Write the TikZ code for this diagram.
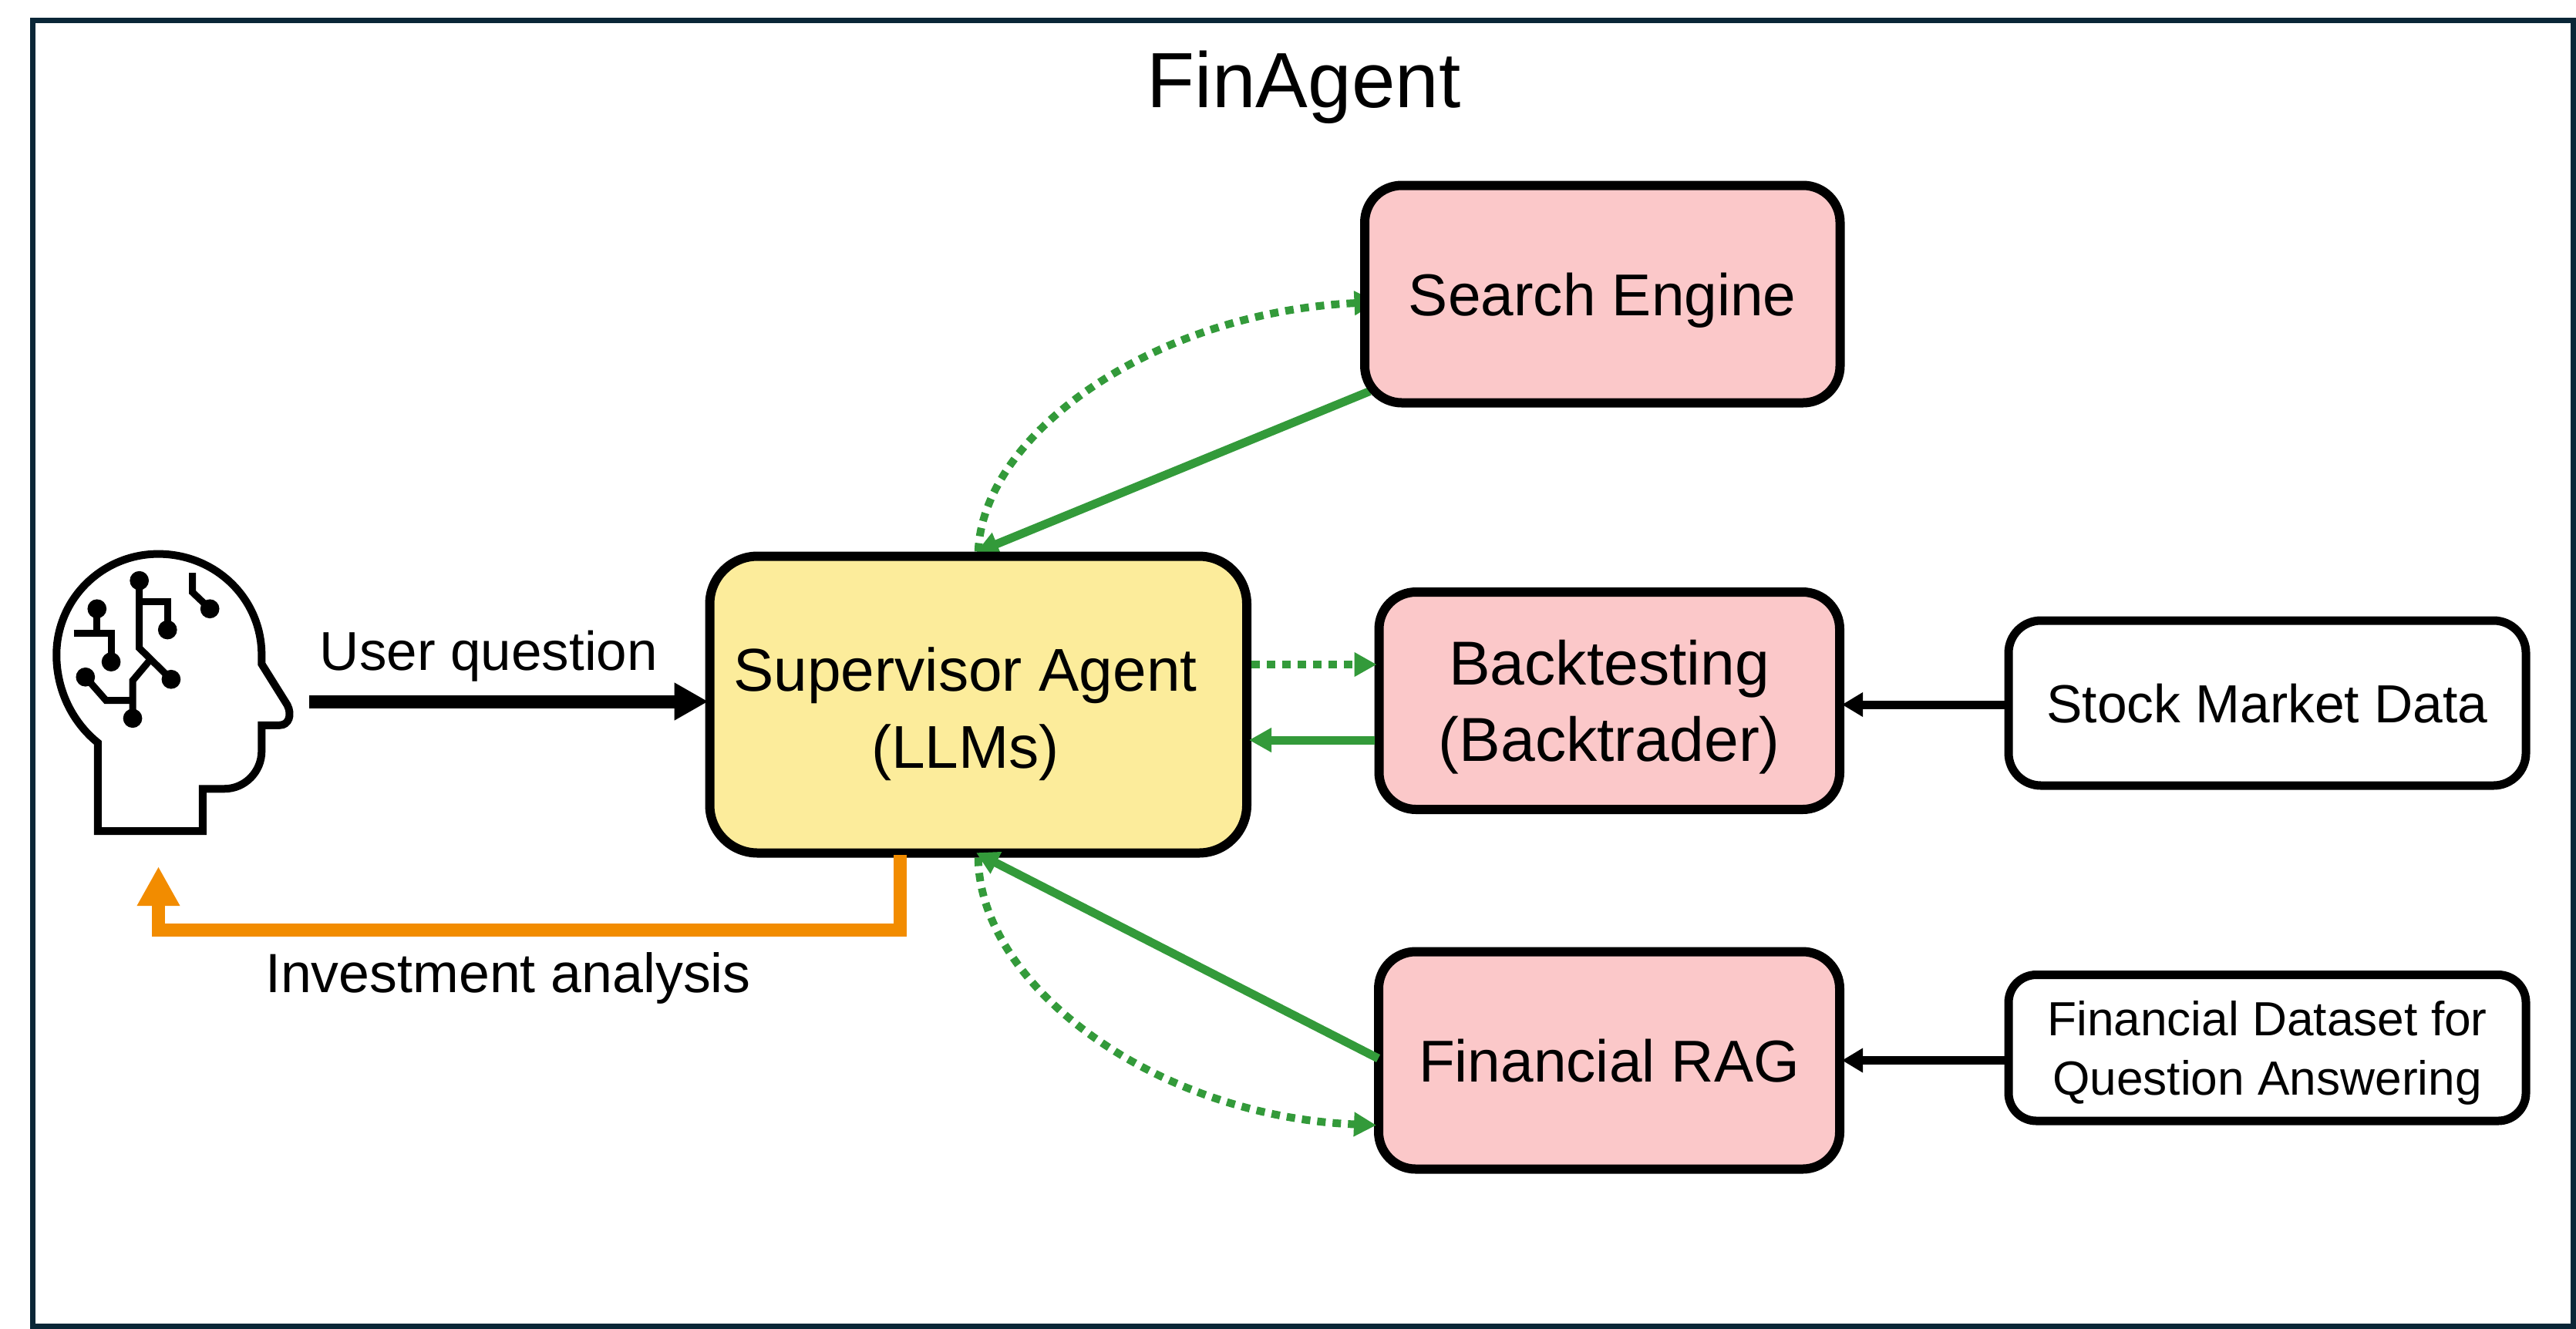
\documentclass[tikz,border=0pt]{standalone}
\usepackage{fontspec}
\setmainfont{Liberation Sans}
\usepackage{xcolor}
\usetikzlibrary{arrows, arrows.meta}
\usetikzlibrary{backgrounds}
\definecolor{frameblue}{HTML}{0A2637}
\definecolor{supyellow}{HTML}{FCEC9B}
\definecolor{toolpink}{HTML}{FBC8C9}
\definecolor{linkgreen}{HTML}{339A3A}
\definecolor{answerorange}{HTML}{F28C00}
\newcommand{\bigtext}{\fontsize{21.8}{28.3}\selectfont}
\newcommand{\midtext}{\fontsize{20.2}{28}\selectfont}
\newcommand{\smalltext}{\fontsize{17.7}{21.8}\selectfont}
\tikzset{
	framebox/.style={draw=frameblue, line width=0.07cm, minimum width=32.94cm, minimum height=16.935cm, inner sep=0pt},
	basebox/.style={draw=black, line width=0.12cm, inner sep=0pt, align=center, text depth=0pt},
	supbox/.style={basebox, fill=supyellow, rounded corners=0.62cm, minimum width=6.965cm, minimum height=3.85cm},
	toolbox/.style={basebox, fill=toolpink, rounded corners=0.48cm, minimum height=2.82cm, font=\bigtext},
	databox/.style={basebox, line width=0.11cm, fill=white, minimum width=6.71cm},
	dotarrow/.style={draw=linkgreen, line width=0.10cm, dash pattern=on 0.11cm off 0.09cm, shorten >=-0.03cm, -{Triangle[length=0.29cm,width=0.30cm]}},
	backarrow/.style={draw=linkgreen, line width=0.11cm, shorten >=-0.03cm, -{Triangle[length=0.29cm,width=0.30cm]}},
	feedarrow/.style={draw=black, line width=0.11cm, shorten >=-0.03cm, -{Triangle[length=0.27cm,width=0.30cm]}},
	wireline/.style={draw=black, line width=0.09cm}
}
\begin{document}
\begin{tikzpicture}
	\useasboundingbox (0,0) rectangle (33.41,-17.23);
	\node[framebox] (frame) at (16.9,-8.7325) {};
	\node[anchor=base, font=\fontsize{28.9}{34}\selectfont] (title) at (16.91,-1.39) {FinAgent};
	
	% boxes
	\node[supbox] (sup) at (12.6875,-9.14) {};
	\node[align=center, text depth=0pt, inner sep=0pt, font=\fontsize{22.3}{28.4}\selectfont] (suptext) at (12.52,-9.18) {Supervisor Agent\\(LLMs)};
	\node[toolbox, minimum width=6.165cm] (search) at (20.7825,-3.815) {Search Engine};
	\node[toolbox, minimum width=5.975cm, font=\fontsize{22.9}{28.3}\selectfont] (backtest) at (20.8725,-9.09) {Backtesting\\(Backtrader)};
	\node[toolbox, minimum width=5.98cm] (rag) at (20.87,-13.755) {Financial RAG};
	\node[databox, rounded corners=0.42cm, minimum height=2.14cm, font=\fontsize{19.8}{28}\selectfont] (stock) at (29.405,-9.12) {Stock Market Data};
	\node[databox, rounded corners=0.36cm, minimum height=1.895cm, font=\smalltext] (dataset) at (29.405,-13.5925) {Financial Dataset for\\Question Answering};
	
	% the two links that run under the search box
	\begin{scope}[on background layer]
		\draw[dotarrow] (sup.north) .. controls (12.75,-5.60) and (15.00,-4.05) .. ([xshift=0.185cm,yshift=-0.105cm]search.west);
		\draw[backarrow] ([xshift=0.125cm,yshift=0.21cm]search.south west) -- (sup.north);
	\end{scope}
	
	% links to the other boxes
	\draw[dotarrow] (sup.east |- 0,-8.62) -- (backtest.west |- 0,-8.62);
	\draw[backarrow] (backtest.west |- 0,-9.60) -- (sup.east |- 0,-9.60);
	\draw[backarrow] ([xshift=0.055cm,yshift=0.025cm]rag.west) -- ([yshift=0.05cm]sup.south);
	\draw[dotarrow] (sup.south) .. controls (12.70,-12.80) and (15.00,-14.48) .. ([yshift=-0.84cm]rag.west);
	\draw[feedarrow] ([yshift=-0.02cm]stock.west) -- ([yshift=-0.02cm]backtest.east |- stock.west);
	\draw[feedarrow] (dataset.west |- rag.east) -- (rag.east);
	
	% user question
	\coordinate (headout) at (4.01,-9.10);
	\draw[draw=black, line width=0.17cm, shorten >=-0.04cm, -{Triangle[length=0.44cm,width=0.46cm]}] (headout) -- (sup.west |- headout);
	\node[anchor=base, font=\midtext] (usertext) at (6.34,-8.69) {User question};
	
	% investment analysis
	\coordinate (supout) at (11.675,-11.09);
	\coordinate (headin) at (2.055,-11.24);
	\draw[draw=answerorange, line width=0.17cm, -{Triangle[length=0.51cm,width=0.52cm]}] (supout) -- (11.675,-12.065) -- (2.055,-12.065) -- (headin);
	\node[anchor=base, font=\fontsize{20.4}{24}\selectfont] (investtext) at (6.59,-12.87) {Investment analysis};
	
	% head with circuit inside, numbers are pixels of a 3x crop
	\begin{scope}[shift={(0.4,-6.8)}, x=0.003333cm, y=-0.003333cm]
		\draw[draw=black, line width=0.10cm] (261,1197) -- (670,1197) -- (670,1032) -- (755,1032) .. controls (835,1032) and (900,965) .. (900,885) -- (900,784) -- (970,784) .. controls (1005,784) and (1020,745) .. (1000,705) -- (900,545) -- (900,510) .. controls (900,290) and (720,116) .. (497,116) .. controls (280,116) and (100,290) .. (100,510) .. controls (100,650) and (165,775) .. (261,852) -- cycle;
		\draw[wireline] (423,220) -- (423,483) -- (547,605);
		\draw[wireline] (423,302) -- (533,302) -- (533,412);
		\draw[wireline] (460,535) -- (397,610) -- (397,757);
		\draw[wireline] (397,687) -- (293,687) -- (213,596);
		\draw[wireline] (258,330) -- (258,425);
		\draw[wireline] (167,425) -- (313,425) -- (313,537);
		\draw[wireline] (630,190) -- (630,265) -- (698,330);
		% draw points
		\filldraw[] (423,220) circle (35);
		\filldraw[] (533,412) circle (35);
		\filldraw[] (547,605) circle (35);
		\filldraw[] (397,757) circle (35);
		\filldraw[] (213,596) circle (35);
		\filldraw[] (258,330) circle (35);
		\filldraw[] (313,537) circle (35);
		\filldraw[] (698,330) circle (35);
	\end{scope}
\end{tikzpicture}
\end{document}
